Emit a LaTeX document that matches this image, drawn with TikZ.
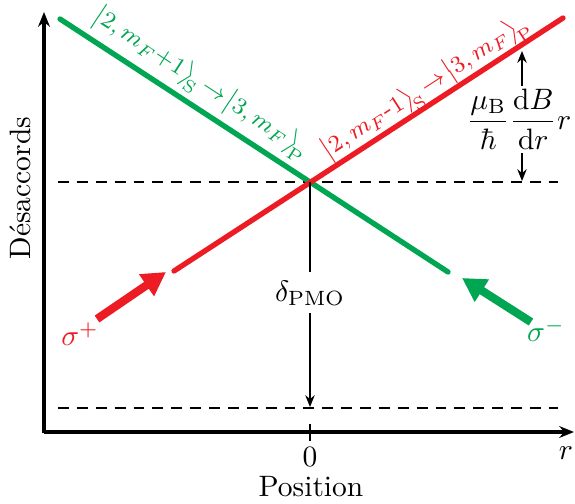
\documentclass[tikz,border=0pt]{standalone}
\usepackage{amsmath}
\usetikzlibrary{arrows.meta}
\definecolor{pgreen}{RGB}{0,166,81}
\definecolor{pred}{RGB}{237,28,36}
\begin{document}
\begin{tikzpicture}[x=0.339pt,y=-0.339pt,
  axis/.style={line width=1.1pt,-{Stealth[length=5pt,width=4pt]}},
  dashline/.style={line width=0.75pt,dash pattern=on 3.7pt off 2.7pt},
  level/.style={line width=1.8pt,line cap=round},
  beam/.style={line width=2.8pt,-{Triangle[length=8pt,width=8.5pt]}},
  dim/.style={line width=0.6pt},
  dimarrow/.style={line width=0.6pt,-{Stealth[length=4pt,width=3.2pt]}},
  lbl/.style={inner sep=1pt},
  trans/.style={inner sep=0pt,font=\fontsize{8.4}{10}\selectfont}]
\useasboundingbox (0,0) rectangle (575,504);
% axes
\coordinate (O) at (44,432);
\coordinate (ytop) at (44,12);
\coordinate (xend) at (574,432);
\draw[axis] (44,433) -- (ytop);
\draw[axis] (43.5,432) -- (xend);
\draw[line width=0.8pt] (310,424) -- (310,441);
\node[lbl] (zero) at (310,457) {$0$};
\node[lbl] (pos) at (311,487) {Position};
\node[lbl] (rr) at (566,453) {$r$};
\node[lbl,rotate=90] (desac) at (20,188) {Désaccords};
% dashed levels
\coordinate (d1a) at (58,182);
\coordinate (d1b) at (558,182);
\coordinate (d2a) at (58,408);
\coordinate (d2b) at (558,408);
\draw[dashline] (d1a) -- (d1b);
\draw[dashline] (d2a) -- (d2b);
% lines
\coordinate (g1) at (60,19);
\coordinate (g2) at (448,272);
\coordinate (r1) at (174,271);
\coordinate (r2) at (563,18);
\draw[level,pgreen] (g1) -- (g2);
\draw[level,pred] (r1) -- (r2);
\node[trans,text=pgreen,rotate=-33.1] (glab) at (201,84)
  {$\bigl|2,m_F{+}1\bigr\rangle_{\!\mathrm{S}}\!\to\!\bigl|3,m_F\bigr\rangle_{\!\mathrm{P}}$};
\node[trans,text=pred,rotate=33] (rlab) at (426,88)
  {$\bigl|2,m_F\text{-}1\bigr\rangle_{\!\mathrm{S}}\!\to\!\bigl|3,m_F\bigr\rangle_{\!\mathrm{P}}$};
% beams
\coordinate (bp1) at (97,319);
\coordinate (bp2) at (166,272);
\coordinate (bm1) at (531,322);
\coordinate (bm2) at (462,278);
\draw[beam,pred] (bp1) -- (bp2);
\draw[beam,pgreen] (bm1) -- (bm2);
\node[lbl,text=pred] (sp) at (80,334) {$\sigma^{+}$};
\node[lbl,text=pgreen] (sm) at (546,330) {$\sigma^{-}$};
% delta PMO
\coordinate (cross) at (310,182);
\coordinate (bot) at (310,407);
\node[lbl] (delta) at (310,293) {$\delta_{\mathrm{PMO}}$};
\draw[dim] (cross) -- (310,272);
\draw[dimarrow] (310,313) -- (bot);
% gradient label
\node[lbl] (grad) at (519,119) {$\dfrac{\mu_{\mathrm B}}{\hbar}\dfrac{\mathrm{d}B}{\mathrm{d}r}r$};
\coordinate (gtop) at (522,51);
\coordinate (gbot) at (522,181);
\draw[dimarrow] (522,86) -- (gtop);
\draw[dimarrow] (522,153) -- (gbot);
\end{tikzpicture}
\end{document}
